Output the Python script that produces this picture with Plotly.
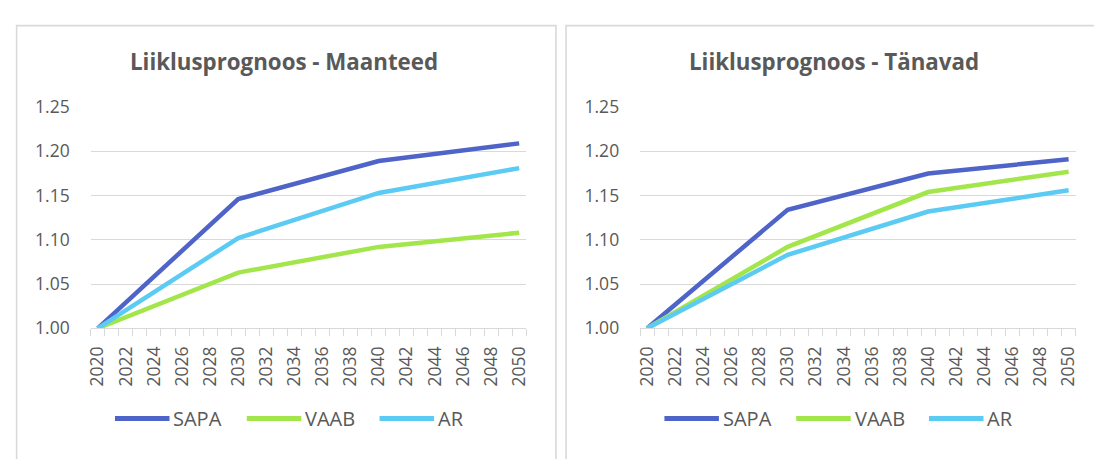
import plotly.graph_objects as go

years = [2020, 2030, 2040, 2050]
series_names = ["SAPA", "VAAB", "AR"]

# Liiklusprognoos - Maanteed
maanteed_sapa = [1.000, 1.146, 1.189, 1.209]
maanteed_vaab = [1.000, 1.063, 1.092, 1.108]
maanteed_ar = [1.000, 1.102, 1.153, 1.181]

# Liiklusprognoos - Tänavad
tanavad_sapa = [1.000, 1.134, 1.175, 1.191]
tanavad_vaab = [1.000, 1.092, 1.154, 1.177]
tanavad_ar = [1.000, 1.083, 1.132, 1.156]

titles = ["Liiklusprognoos - Maanteed", "Liiklusprognoos - Tänavad"]
x_tick_years = list(range(2020, 2051, 2))
colors = ["#4F64C9", "#A3E64C", "#5BCBF4"]

W, H = 1094, 459
FONT = "Open Sans"
GRAY = "#595959"
GRID = "#D9D9D9"
SHIFT = 554.5  # horizontal offset of the second chart

def px(x):
    return x / W

def py(y):
    return (H - y) / H

fig = go.Figure()

panels = [
    (maanteed_sapa, maanteed_vaab, maanteed_ar),
    (tanavad_sapa, tanavad_vaab, tanavad_ar),
]
xdomains = [[px(85.5), px(525)], [px(85.5 + SHIFT), px(525 + SHIFT)]]
ydomain = [py(332.7), py(99.3)]

for p, vals in enumerate(panels):
    xa = "x" if p == 0 else "x2"
    ya = "y" if p == 0 else "y2"
    for name, v, c in zip(series_names, vals, colors):
        fig.add_trace(go.Scatter(
            x=years, y=v, name=name, mode="lines",
            line=dict(color=c, width=4.5),
            xaxis=xa, yaxis=ya, showlegend=False,
        ))

axis_common_x = dict(
    range=[2019.5, 2050.5],
    tickmode="array", tickvals=x_tick_years,
    ticktext=[str(y) for y in x_tick_years],
    tickangle=-90, ticks="", showgrid=False,
    showline=True, linecolor=GRID, linewidth=1.3,
    tickfont=dict(family=FONT, size=17.5, color=GRAY),
    ticklabelstandoff=10,
    minor=dict(tickmode="array", tickvals=[y + 0.5 for y in range(2019, 2051)],
               ticks="outside", ticklen=7, tickcolor=GRID, tickwidth=1.3, showgrid=False),
    zeroline=False, fixedrange=True,
)
axis_common_y = dict(
    range=[1.0, 1.25], tickmode="linear", tick0=1.0, dtick=0.05,
    tickformat=".2f", showgrid=True, gridcolor=GRID, gridwidth=1.3,
    zeroline=False, showline=False, ticks="",
    tickfont=dict(family=FONT, size=17.5, color=GRAY),
    ticklabelstandoff=20, fixedrange=True,
)

fig.update_layout(
    width=W, height=H,
    margin=dict(l=0, r=0, t=0, b=0),
    paper_bgcolor="white", plot_bgcolor="white",
    xaxis=dict(domain=xdomains[0], anchor="y", **axis_common_x),
    yaxis=dict(domain=ydomain, anchor="x", **axis_common_y),
    xaxis2=dict(domain=xdomains[1], anchor="y2", **axis_common_x),
    yaxis2=dict(domain=ydomain, anchor="x2", **axis_common_y),
    showlegend=False,
)

# chart borders
fig.add_shape(type="rect", xref="paper", yref="paper",
              x0=px(10.7), x1=px(555), y0=-0.05, y1=py(13.3),
              line=dict(color=GRID, width=1.6), fillcolor="rgba(0,0,0,0)", layer="below")
fig.add_shape(type="rect", xref="paper", yref="paper",
              x0=px(10.7 + SHIFT), x1=px(555 + SHIFT), y0=-0.05, y1=py(13.3),
              line=dict(color=GRID, width=1.6), fillcolor="rgba(0,0,0,0)", layer="below")

# titles
for cx, t in zip([281, 281 + SHIFT], titles):
    fig.add_annotation(text=f"<b>{t}</b>", xref="paper", yref="paper",
                       x=px(cx), y=py(51), xanchor="center", yanchor="middle",
                       showarrow=False, font=dict(family=FONT, size=22.3, color=GRAY))

# legends (one per chart)
legend_starts = [110, 243, 377]
for p in range(2):
    for name, c, x0 in zip(series_names, colors, legend_starts):
        x0 = x0 + p * SHIFT
        fig.add_shape(type="line", xref="paper", yref="paper",
                      x0=px(x0), x1=px(x0 + 55), y0=py(428), y1=py(428),
                      line=dict(color=c, width=5))
        fig.add_annotation(text=name, xref="paper", yref="paper",
                           x=px(x0 + 57), y=py(428), xanchor="left", yanchor="middle",
                           showarrow=False, font=dict(family=FONT, size=20, color=GRAY))

fig.write_html("out.html", post_script="document.body.style.margin='0';",
               config={"displayModeBar": False})
